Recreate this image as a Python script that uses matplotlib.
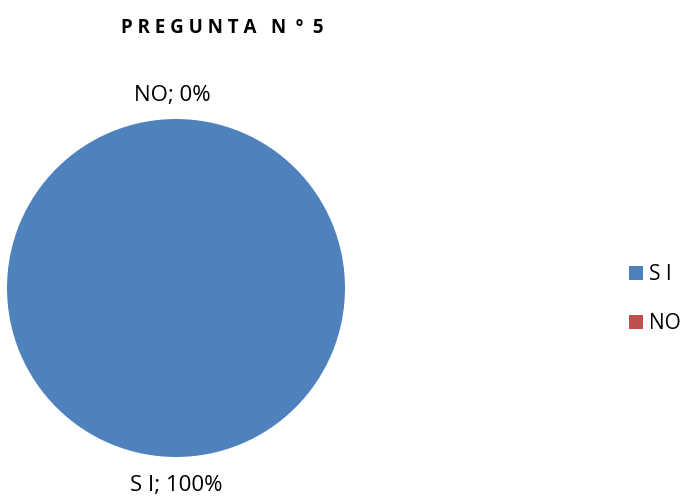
import matplotlib.pyplot as plt
from matplotlib.patches import Patch

categories = ["S I", "NO"]
values = [100, 0]
colors = ["#4F81BD", "#C0504D"]
title = "P R E G U N T A   N  º  5"

plt.rcParams['font.family'] = ['Open Sans', 'DejaVu Sans']

fig = plt.figure(figsize=(6.89, 4.97), dpi=100)
ax = fig.add_axes([7/689, 40/497, 338/689, 338/497])
wedges, _ = ax.pie(values, colors=colors, startangle=90, counterclock=False,
                   radius=1.0, wedgeprops=dict(linewidth=0))
ax.set_xlim(-1, 1); ax.set_ylim(-1, 1)
ax.set_aspect('equal')

# data labels: "cat; pct%"
total = sum(values)
pct = [v * 100 / total for v in values]
ax.text(0, -1.17, "%s; %d%%" % (categories[0], pct[0]), ha='center', va='center', fontsize=16)
ax.text(-0.02, 1.14, "%s; %d%%" % (categories[1], pct[1]), ha='center', va='center', fontsize=16)

fig.text(222/689, 1 - 28/497, title, ha='center', va='center', fontsize=13.5, fontweight='bold')

handles = [Patch(facecolor=c, edgecolor='none') for c in colors]
fig.legend(handles, categories, loc='center left', bbox_to_anchor=(629/689, 1 - 299/497),
           frameon=False, fontsize=15, handlelength=0.65, handleheight=0.65,
           handletextpad=0.3, labelspacing=1.35, borderpad=0, borderaxespad=0)

fig.savefig("out.png", dpi=100)
